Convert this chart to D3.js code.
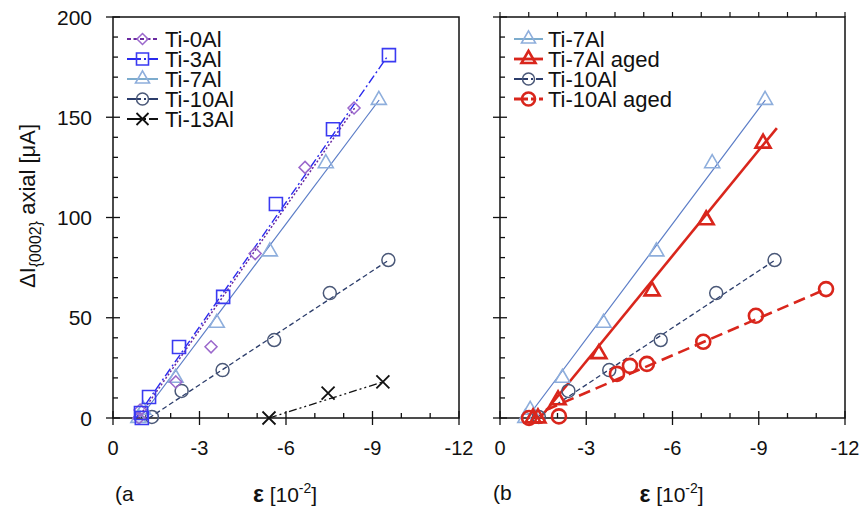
<!DOCTYPE html>
<html><head><meta charset="utf-8">
<script src="https://cdn.jsdelivr.net/npm/d3@7"></script>
<style>body{margin:0;background:#fff}svg{display:block}text{font-family:"Liberation Sans",Arial,sans-serif;fill:#111}</style>
</head><body><svg id="c" width="864" height="515"></svg>
<script>
// ---- data (strain in 10^-2, ΔI in µA) ----
const ti0Al_x = [-0.9, -0.94, -2.18, -3.4, -4.93, -6.66, -8.36];
const ti0Al_y = [0, 4, 18, 35.5, 82, 125, 154.6];
const ti3Al_x = [-0.97, -1.0, -1.25, -2.29, -3.82, -5.65, -7.63, -9.57];
const ti3Al_y = [2.5, 0, 10.5, 35.4, 60.4, 106.7, 144, 181];
const ti7Al_x = [-0.88, -1.05, -2.17, -3.6, -5.44, -7.38, -9.22];
const ti7Al_y = [0, 4, 20, 47.4, 83, 127, 158.6];
const ti10Al_x = [-1.35, -2.38, -3.8, -5.59, -7.52, -9.55];
const ti10Al_y = [0.5, 13.5, 23.9, 38.9, 62.3, 78.8];
const ti13Al_x = [-5.41, -7.46, -9.36];
const ti13Al_y = [0, 12.4, 18];
const ti7AlAged_x = [-1.15, -1.32, -2.02, -3.44, -5.29, -7.17, -9.15];
const ti7AlAged_y = [0, 0, 9, 32, 63.3, 98.8, 137];
const ti10AlAged_x = [-1.01, -2.05, -4.07, -4.52, -5.11, -7.07, -8.9, -11.34];
const ti10AlAged_y = [0, 0.8, 22, 26, 27, 38, 51, 64.3];
// fit line end points [x0, y0, x1, y1]
const fit0Al = [-0.87, 0, -8.4, 155];
const fit3Al = [-0.8, 0, -9.55, 181];
const fit7Al = [-0.94, 0, -9.23, 158.6];
const fit10Al = [-1.25, 0, -9.57, 78.8];
const fit13Al = [-5.41, 0, -9.36, 18];
const fit7AlAged = [-1.39, 0, -9.63, 144.6];
const fit10AlAged = [-1.6, 4, -11.34, 64.3];
const xTicks = [0, -3, -6, -9, -12];
const xTickLabels = ["0", "-3", "-6", "-9", "-12"];
const yTicks = [0, 50, 100, 150, 200];
const legendA = ["Ti-0Al", "Ti-3Al", "Ti-7Al", "Ti-10Al", "Ti-13Al"];
const legendB = ["Ti-7Al", "Ti-7Al aged", "Ti-10Al", "Ti-10Al aged"];

const svg = d3.select("#c");
const y = d3.scaleLinear().domain([0, 200]).range([418, 17]);
const xa = d3.scaleLinear().domain([0, -12]).range([113, 459]);
const xb = d3.scaleLinear().domain([0, -12]).range([500, 845]);

// styles
const S = {
  "Ti-0Al": {mk: "diamond", mc: "#9b68cc", mw: 1.5, ms: 12, lc: "#6a2aa0", lw: 1.5, dash: "2,2", ldash: "4,2.5", llw: 2},
  "Ti-3Al": {mk: "square", mc: "#3a3af2", mw: 1.6, ms: 13, lc: "#2a2aee", lw: 1.4, dash: "9,3,2,3", ldash: "14,3,2,3", llw: 1.8},
  "Ti-7Al": {mk: "triangle", mc: "#8eaedc", mw: 1.6, ms: 15, lc: "#5a7cc6", lw: 1.2, dash: null, ldash: null, llw: 1.8, legc: "#6fa3c8"},
  "Ti-10Al": {mk: "circle", mc: "#4a5878", mw: 1.5, ms: 13, lc: "#2c3d6b", lw: 1.3, dash: "5,3", ldash: "14,3,2,3", llw: 1.8},
  "Ti-13Al": {mk: "x", mc: "#111", mw: 1.8, ms: 13, lc: "#111", lw: 1.3, dash: "8,3,2,3,2,3", ldash: "14,3,2,3", llw: 1.8},
  "Ti-7Al aged": {mk: "triangle", mc: "#d9261c", mw: 2.6, ms: 15, lc: "#d9261c", lw: 2.6, dash: null, ldash: null, llw: 2.8},
  "Ti-10Al aged": {mk: "circle", mc: "#d9261c", mw: 2.6, ms: 14, lc: "#d9261c", lw: 2.6, dash: "12,6", ldash: "14,3,5,3", llw: 2.8}
};

function markerPath(t, s) {
  const h = s / 2;
  if (t === "diamond") return `M0,${-h}L${h},0L0,${h}L${-h},0Z`;
  if (t === "square") return `M${-h},${-h}H${h}V${h}H${-h}Z`;
  if (t === "triangle") { const hh = s * Math.sqrt(3) / 2; return `M0,${-hh * 2 / 3}L${h},${hh / 3}L${-h},${hh / 3}Z`; }
  if (t === "circle") return `M${h},0A${h},${h},0,1,1,${-h},0A${h},${h},0,1,1,${h},0Z`;
  if (t === "x") return `M${-h},${-h}L${h},${h}M${-h},${h}L${h},${-h}`;
}

function drawMarkers(g, x, xs, ys, name) {
  const st = S[name];
  g.selectAll(null).data(d3.zip(xs, ys)).join("path")
    .attr("d", markerPath(st.mk, st.ms))
    .attr("transform", d => `translate(${x(d[0])},${y(d[1])})`)
    .attr("fill", "none").attr("stroke", st.mc).attr("stroke-width", st.mw);
}
function drawFit(g, x, f, name) {
  const st = S[name];
  g.append("line").attr("x1", x(f[0])).attr("y1", y(f[1])).attr("x2", x(f[2])).attr("y2", y(f[3]))
    .attr("stroke", st.lc).attr("stroke-width", st.lw).attr("stroke-dasharray", st.dash);
}

function frame(x, ticksTop, showYLabels) {
  const g = svg.append("g");
  const [x0, x1] = x.range();
  const k = "#111";
  g.append("rect").attr("x", x0).attr("y", y(200)).attr("width", x1 - x0).attr("height", y(0) - y(200))
    .attr("fill", "none").attr("stroke", k).attr("stroke-width", 1.5);
  const xt = d3.range(0, -12.01, -1);
  xt.forEach(v => {
    const major = Math.abs(v % 3) < 1e-6;
    g.append("line").attr("x1", x(v)).attr("x2", x(v)).attr("y1", y(0) - (major ? 7 : 5)).attr("y2", y(0) + (major ? 7 : 0))
      .attr("stroke", k).attr("stroke-width", 1.3);
    if (ticksTop) g.append("line").attr("x1", x(v)).attr("x2", x(v)).attr("y1", y(200)).attr("y2", y(200) - 5)
      .attr("stroke", k).attr("stroke-width", 1.2);
  });
  d3.range(0, 200.1, 10).forEach(v => {
    const major = v % 50 === 0;
    g.append("line").attr("y1", y(v)).attr("y2", y(v)).attr("x1", x0 - (major ? 7 : 0)).attr("x2", x0 + (major ? 7 : 5))
      .attr("stroke", k).attr("stroke-width", 1.3);
  });
  xTicks.forEach((v, i) => g.append("text").attr("x", x(v)).attr("y", 455).attr("text-anchor", "middle")
    .attr("font-size", 20).text(xTickLabels[i]));
  if (showYLabels) yTicks.forEach(v => g.append("text").attr("x", 92).attr("y", y(v)).attr("dy", "0.36em")
    .attr("text-anchor", "end").attr("font-size", 21).text(v));
  const xl = g.append("text").attr("x", (x0 + x1) / 2 - 1).attr("y", 502).attr("text-anchor", "middle").attr("font-size", 21);
  xl.append("tspan").attr("font-weight", "bold").attr("font-size", 23).text("ε");
  xl.append("tspan").text(" [10");
  xl.append("tspan").attr("font-size", 14).attr("dy", -9).text("-2");
  xl.append("tspan").attr("dy", 9).text("]");
  return g;
}

function legend(items, lx0, lx1, tx, y0, dy) {
  const g = svg.append("g");
  items.forEach((name, i) => {
    const st = S[name];
    const cy = y0 + i * dy;
    g.append("line").attr("x1", lx0).attr("x2", lx1).attr("y1", cy).attr("y2", cy)
      .attr("stroke", st.legc || st.lc).attr("stroke-width", st.llw).attr("stroke-dasharray", st.ldash);
    g.append("path").attr("d", markerPath(st.mk, st.ms - 1)).attr("transform", `translate(${(lx0 + lx1) / 2},${cy})`)
      .attr("fill", "none").attr("stroke", st.mc).attr("stroke-width", st.mw);
    g.append("text").attr("x", tx).attr("y", cy + 8).attr("font-size", 22).text(name);
  });
}

// panel a
frame(xa, false, true);
const ga = svg.append("g");
drawFit(ga, xa, fit13Al, "Ti-13Al");
drawFit(ga, xa, fit10Al, "Ti-10Al");
drawFit(ga, xa, fit7Al, "Ti-7Al");
drawFit(ga, xa, fit0Al, "Ti-0Al");
drawFit(ga, xa, fit3Al, "Ti-3Al");
drawMarkers(ga, xa, ti13Al_x, ti13Al_y, "Ti-13Al");
drawMarkers(ga, xa, ti10Al_x, ti10Al_y, "Ti-10Al");
drawMarkers(ga, xa, ti7Al_x, ti7Al_y, "Ti-7Al");
drawMarkers(ga, xa, ti0Al_x, ti0Al_y, "Ti-0Al");
drawMarkers(ga, xa, ti3Al_x, ti3Al_y, "Ti-3Al");
legend(legendA, 127, 158, 165, 39, 20);

// panel b
frame(xb, true, false);
const gb = svg.append("g");
drawFit(gb, xb, fit7Al, "Ti-7Al");
drawFit(gb, xb, fit10Al, "Ti-10Al");
drawFit(gb, xb, fit10AlAged, "Ti-10Al aged");
drawFit(gb, xb, fit7AlAged, "Ti-7Al aged");
drawMarkers(gb, xb, ti7Al_x, ti7Al_y, "Ti-7Al");
drawMarkers(gb, xb, ti10Al_x, ti10Al_y, "Ti-10Al");
drawMarkers(gb, xb, ti10AlAged_x, ti10AlAged_y, "Ti-10Al aged");
drawMarkers(gb, xb, ti7AlAged_x, ti7AlAged_y, "Ti-7Al aged");
legend(legendB, 514, 543, 548, 39, 20);

// panel letters
svg.append("text").attr("x", 115).attr("y", 501).attr("font-size", 21).text("(a");
svg.append("text").attr("x", 493).attr("y", 500).attr("font-size", 21).text("(b");

// y label
const yl = svg.append("text").attr("transform", "translate(35,206) rotate(-90)").attr("text-anchor", "middle").attr("font-size", 22);
yl.append("tspan").text("ΔI");
yl.append("tspan").attr("font-size", 16).attr("dy", 6).text("{0002}");
yl.append("tspan").attr("dy", -6).text(" axial [μA]");
</script></body></html>
